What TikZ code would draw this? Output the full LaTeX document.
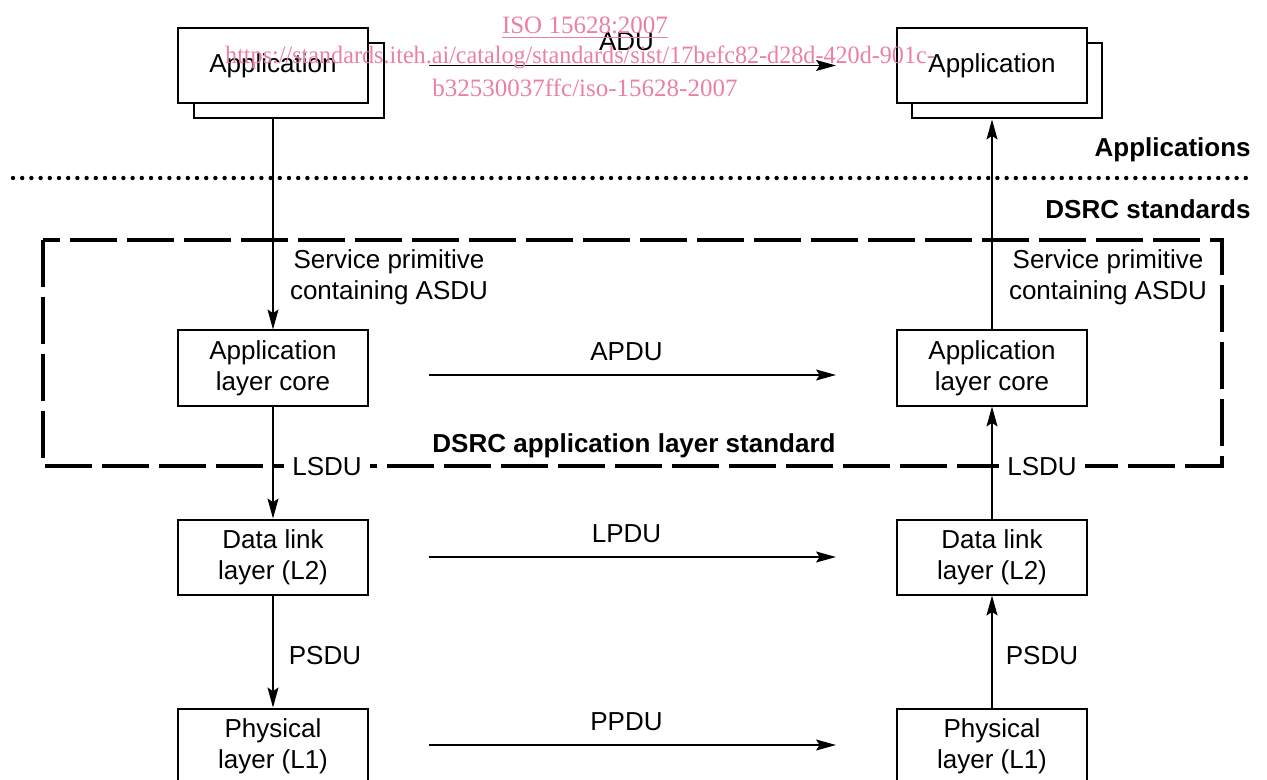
\documentclass[tikz,border=0pt]{standalone}
\usepackage{fontspec}
\setmainfont{Liberation Sans}
\newfontfamily\wmfont{Liberation Serif}
\usetikzlibrary{arrows.meta}
\definecolor{wmpink}{RGB}{236,128,164}

\begin{document}
\begin{tikzpicture}[x=0.5pt,y=-0.5pt,
  txt/.style={font=\fontsize{13}{15.5}\selectfont},
  box/.style={txt, draw, line width=1pt, fill=white, minimum width=95pt,
    minimum height=37.5pt, inner sep=0pt, align=center},
  conn/.style={line width=0.65pt, -{Stealth[length=10pt,width=5.5pt,inset=1.8pt]}},
  lbl/.style={txt, inner sep=0pt},
  pdu/.style={lbl, fill=white, inner xsep=4pt, inner ysep=1pt},
  heading/.style={font=\fontsize{13}{15.5}\selectfont\bfseries, inner sep=0pt},
  dotline/.style={line width=2.2pt, line cap=round, dash pattern=on 0pt off 4.6pt},
  stdframe/.style={line width=1.7pt, dash pattern=on 23.5pt off 5pt},
  wm/.style={font=\wmfont\fontsize{12.5}{15}\selectfont, text=wmpink, inner sep=0pt}
]
\useasboundingbox (0,0) rectangle (1267,780);
\clip (0,0) rectangle (1267,780);

% separation between applications and DSRC standards
\draw[dotline] (13,178) -- (1254,178);
\node[heading, anchor=base east] (apps) at (1251,157) {Applications};
\node[heading, anchor=base east] (dsrc) at (1251,219) {DSRC standards};

% scope of the application layer standard
\draw[stdframe] (43,240) rectangle (1222,466);
\node[heading, anchor=base] (alstd) at (634,452) {DSRC application layer standard};

% stacked application boxes
\node[box] (appLb) at (288.5,80.5) {};
\node[box] (appL) at (273,65.5) {Application};
\node[box] (appRb) at (1006.5,81) {};
\node[box] (appR) at (992,65.5) {Application};

% layer boxes
\node[box] (alcL) at (273,368) {Application\\layer core};
\node[box] (alcR) at (992,368) {Application\\layer core};
\node[box] (dllL) at (273,557) {Data link\\layer (L2)};
\node[box] (dllR) at (992,557) {Data link\\layer (L2)};
\node[box] (phyL) at (273,746) {Physical\\layer (L1)};
\node[box] (phyR) at (992,746) {Physical\\layer (L1)};

% vertical service flows
\draw[conn] (appLb.south -| appL.south) -- (alcL.north);
\draw[conn] (alcR.north) -- (appRb.south -| appR.south);
\draw[conn] (alcL.south) -- (dllL.north);
\draw[conn] (dllR.north) -- (alcR.south);
\draw[conn] (dllL.south) -- (phyL.north);
\draw[conn] (phyR.north) -- (dllR.south);

\node[lbl, align=center] (spL) at (389,277.5) {Service primitive\\containing ASDU};
\node[lbl, align=center] (spR) at (1108,277.5) {Service primitive\\containing ASDU};
\node[pdu] (lsduL) at (327,467) {LSDU};
\node[pdu] (lsduR) at (1042,467) {LSDU};
\node[pdu] (psduL) at (325,656) {PSDU};
\node[pdu] (psduR) at (1042,656) {PSDU};

% peer-to-peer protocol data units
\draw[conn] ([xshift=30pt]appL.east) -- node[lbl, above=7pt, xshift=-3pt] (adu) {ADU} ([xshift=-30pt]appR.west);
\draw[conn] ([xshift=30pt,yshift=-3.5pt]alcL.east) -- node[lbl, above=7pt, xshift=-3pt] (apdu) {APDU} ([xshift=-30pt,yshift=-3.5pt]alcR.west);
\draw[conn] ([xshift=30pt]dllL.east) -- node[lbl, above=7pt, xshift=-3pt] (lpdu) {LPDU} ([xshift=-30pt]dllR.west);
\draw[conn] ([xshift=30pt,yshift=0.5pt]phyL.east) -- node[lbl, above=7pt, xshift=-3pt] (ppdu) {PPDU} ([xshift=-30pt,yshift=0.5pt]phyR.west);

% document stamp
\node[wm, anchor=base] (wm1) at (585,34) {\underline{ISO 15628:2007}};
\node[wm, anchor=base, xscale=0.966] (wm2) at (580,64) {https://standards.iteh.ai/catalog/standards/sist/17befc82-d28d-420d-901c-};
\node[wm, anchor=base] (wm3) at (585,97) {b32530037ffc/iso-15628-2007};
\end{tikzpicture}
\end{document}
